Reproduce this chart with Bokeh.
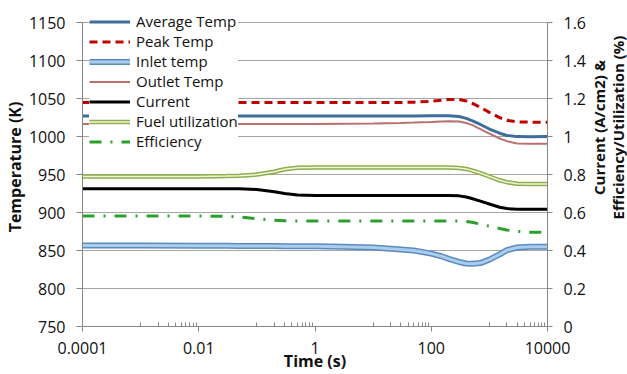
import math
from bokeh.plotting import figure
from bokeh.layouts import row
from bokeh.models import (Range1d, LinearAxis, FixedTicker, CustomJSTickFormatter,
                          Legend, ColumnDataSource, Label)
from bokeh.embed import file_html
from bokeh.resources import INLINE

# ---------------- data ----------------
time_s = [1e-4, 1e-3, 0.01, 0.03, 0.05, 0.1, 0.2, 0.3, 0.5, 1, 3, 10, 30, 50,
          100, 150, 200, 300, 400, 500, 700, 1000, 1500, 2000, 3000, 5000, 10000]

average_temp = [1027, 1027, 1027, 1027, 1027, 1027, 1027, 1027, 1027, 1027, 1027, 1027, 1027, 1027,
                1027.5, 1027.5, 1027.5, 1026.5, 1024, 1021, 1016, 1010, 1004.5, 1001.5, 1000, 999.8, 1000]
peak_temp = [1045, 1045, 1045, 1045, 1045, 1045, 1045, 1045, 1045, 1045, 1045, 1045, 1045, 1045.3,
             1046.5, 1048, 1049, 1049, 1047, 1044, 1038.5, 1032, 1025, 1021.5, 1019.5, 1019, 1019]
inlet_temp = [856.5, 856.5, 856.3, 856.2, 856.1, 856, 855.9, 855.8, 855.7, 855.5, 855, 854, 851.5, 850,
              846, 842.5, 839, 835, 833, 832.5, 833.5, 838, 845, 850.5, 854, 855, 855]
outlet_temp = [1016.5, 1016.5, 1016.5, 1016.5, 1016.5, 1016.5, 1016.5, 1016.5, 1016.5, 1016.5, 1017, 1017.3, 1018, 1018.5,
               1019.3, 1020, 1020.3, 1020, 1018, 1015.5, 1010, 1004, 997.5, 994, 991, 990.5, 990.5]
current = [0.726, 0.726, 0.726, 0.726, 0.725, 0.722, 0.71, 0.70, 0.692, 0.69, 0.69, 0.69, 0.69, 0.69,
           0.69, 0.69, 0.69, 0.688, 0.682, 0.674, 0.66, 0.645, 0.628, 0.621, 0.618, 0.617, 0.617]
fuel_utilization = [0.79, 0.79, 0.79, 0.792, 0.794, 0.80, 0.815, 0.828, 0.836, 0.838, 0.838, 0.838, 0.838, 0.838,
                    0.838, 0.838, 0.838, 0.835, 0.83, 0.822, 0.808, 0.79, 0.77, 0.76, 0.752, 0.75, 0.75]
efficiency = [0.582, 0.582, 0.582, 0.58, 0.577, 0.568, 0.56, 0.557, 0.556, 0.556, 0.556, 0.556, 0.556, 0.556,
              0.556, 0.556, 0.556, 0.556, 0.553, 0.549, 0.539, 0.528, 0.516, 0.508, 0.501, 0.497, 0.496]

x_major_ticks = [1e-4, 1e-2, 1, 100, 10000]
x_minor_ticks = [m * 10.0 ** e for e in (-3, -1, 1, 3) for m in range(1, 10)]
left_ticks = [750, 800, 850, 900, 950, 1000, 1050, 1100, 1150]
right_ticks = [0, 0.2, 0.4, 0.6, 0.8, 1.0, 1.2, 1.4, 1.6]
right_label_lines = ["Current (A/cm2) &", "Efficiency/Utilization (%)"]

FONT = "Open Sans"
AX_COLOR = "#868686"
HEAD = 20  # headroom (K) above 1150 so the legend is not clipped

src = ColumnDataSource(dict(t=time_s, avg=average_temp, peak=peak_temp, inlet=inlet_temp,
                            outlet=outlet_temp, cur=current, fuel=fuel_utilization, eff=efficiency))

p = figure(width=589, height=374, x_axis_type="log", output_backend="svg",
           toolbar_location=None, x_range=Range1d(1e-4, 1e4),
           y_range=Range1d(left_ticks[0], left_ticks[-1] + HEAD),
           min_border_left=79, min_border_right=42, min_border_top=7, min_border_bottom=47)
p.extra_y_ranges = {"right": Range1d(right_ticks[0], right_ticks[-1] + HEAD / 250.0)}
p.outline_line_color = None
p.background_fill_color = "white"
p.border_fill_color = "white"

# axes
xa = p.xaxis[0]
xa.ticker = FixedTicker(ticks=x_major_ticks, minor_ticks=x_minor_ticks)
xa.formatter = CustomJSTickFormatter(code="return tick.toString();")
xa.axis_label = "Time (s)"
xa.major_tick_out = 5
xa.major_tick_in = 0
xa.minor_tick_in = 4
xa.minor_tick_out = 0
xa.major_label_standoff = 10
xa.axis_label_standoff = -7

ya = p.yaxis[0]
ya.ticker = FixedTicker(ticks=left_ticks)
ya.bounds = (left_ticks[0], left_ticks[-1])
ya.axis_label = "Temperature (K)"
ya.major_tick_out = 6
ya.major_tick_in = 0
ya.minor_tick_out = 0
ya.minor_tick_in = 0
ya.major_label_standoff = 11
ya.axis_label_standoff = 0

ra = LinearAxis(y_range_name="right", ticker=FixedTicker(ticks=right_ticks),
                bounds=(right_ticks[0], right_ticks[-1]),
                formatter=CustomJSTickFormatter(code="return (Math.round(tick*10)/10).toString();"))
ra.major_tick_out = 5
ra.major_tick_in = 0
ra.minor_tick_out = 0
ra.minor_tick_in = 0
ra.major_label_standoff = 11
p.add_layout(ra, "right")

for ax in (xa, ya, ra):
    ax.axis_line_color = AX_COLOR
    ax.major_tick_line_color = AX_COLOR
    ax.minor_tick_line_color = AX_COLOR
    ax.major_label_text_font = FONT
    ax.major_label_text_font_size = "16px"
    ax.major_label_text_color = "#111111"
    ax.axis_label_text_font = FONT
    ax.axis_label_text_font_size = "16px"
    ax.axis_label_text_font_style = "bold"
    ax.axis_label_text_color = "#111111"

p.xgrid.visible = False
p.ygrid.ticker = FixedTicker(ticks=left_ticks)
p.ygrid.grid_line_color = "#a6a6a6"
p.ygrid.grid_line_width = 1

# lines
r_avg = p.line("t", "avg", source=src, line_color="#3e6e9a", line_width=3)
r_peak = p.line("t", "peak", source=src, line_color="#c00000", line_width=3, line_dash="8 5")
r_in1 = p.line("t", "inlet", source=src, line_color="#5a8ac0", line_width=6)
r_in2 = p.line("t", "inlet", source=src, line_color="#aacde9", line_width=3)
r_out = p.line("t", "outlet", source=src, line_color="#b87070", line_width=2)
r_cur = p.line("t", "cur", source=src, y_range_name="right", line_color="black", line_width=3)
r_fu1 = p.line("t", "fuel", source=src, y_range_name="right", line_color="#8fae4a", line_width=4.5)
r_fu2 = p.line("t", "fuel", source=src, y_range_name="right", line_color="#f0f5e0", line_width=1.5)
r_eff = p.line("t", "eff", source=src, y_range_name="right", line_color="#2ca02c", line_width=3,
               line_dash="12 9 2 9")

legend = Legend(items=[
    ("Average Temp", [r_avg]),
    ("Peak Temp", [r_peak]),
    ("Inlet temp", [r_in1, r_in2]),
    ("Outlet Temp", [r_out]),
    ("Current", [r_cur]),
    ("Fuel utilization", [r_fu1, r_fu2]),
    ("Efficiency", [r_eff]),
], location=(7, 175))
legend.padding = 4
legend.margin = 0
legend.spacing = 0
legend.label_height = 19
legend.glyph_height = 19
legend.glyph_width = 41
legend.label_standoff = 6
legend.border_line_color = None
legend.background_fill_color = "white"
legend.background_fill_alpha = 1
legend.label_text_font = FONT
legend.label_text_font_size = "15px"
legend.label_text_color = "#111111"
p.add_layout(legend)

# narrow companion figure carrying the two-line right-hand axis title (reads bottom to top)
p2 = figure(width=38, height=374, output_backend="svg", toolbar_location=None,
            x_range=Range1d(0, 1), y_range=Range1d(0, 1),
            x_axis_location=None, y_axis_location=None,
            min_border_left=0, min_border_right=0, min_border_top=0, min_border_bottom=0)
p2.outline_line_color = None
p2.grid.visible = False
p2.background_fill_color = "white"
p2.border_fill_color = "white"
for i, txt in enumerate(right_label_lines):
    p2.add_layout(Label(x=9 + 19 * i, y=199, x_units="screen", y_units="screen", text=txt,
                        angle=math.pi / 2, text_align="center", text_baseline="middle",
                        text_font=FONT, text_font_size="15px", text_font_style="bold",
                        text_color="#111111"))

open("out.html", "w").write(file_html(row(p, p2), INLINE))
